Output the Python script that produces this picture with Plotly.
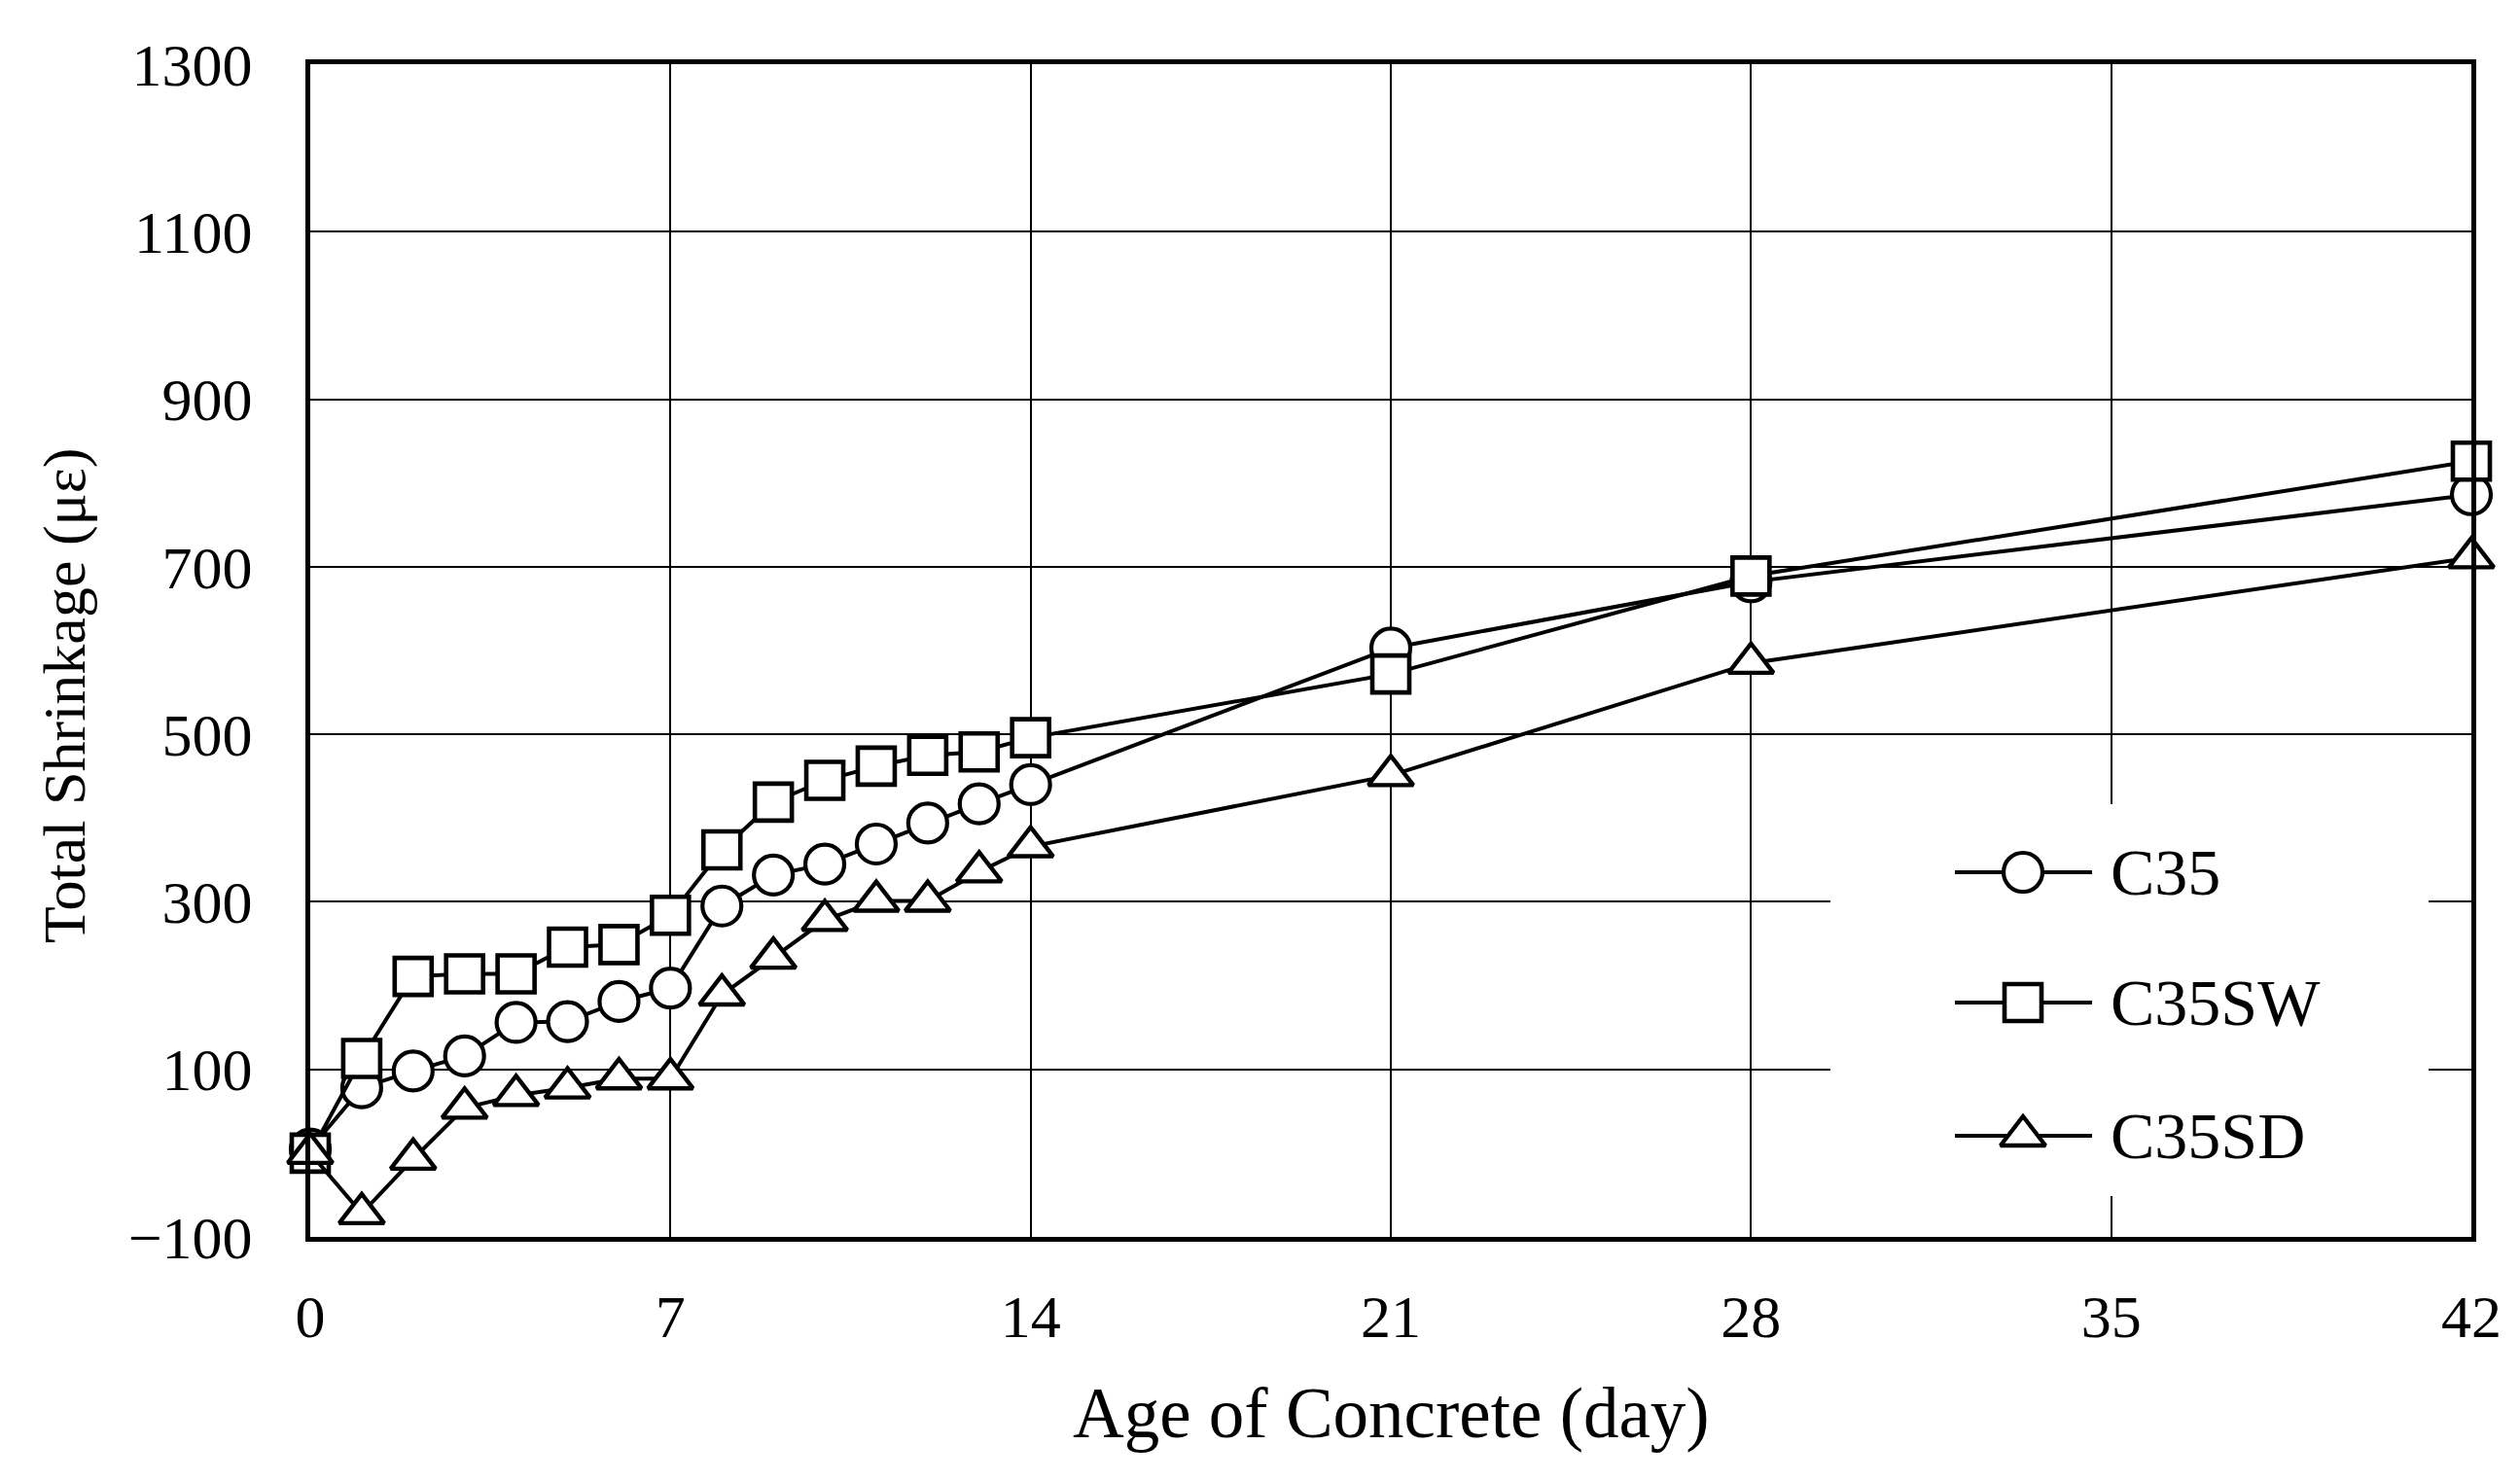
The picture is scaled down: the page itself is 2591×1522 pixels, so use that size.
import plotly.graph_objects as go

# ---- data ----
days = [0, 1, 2, 3, 4, 5, 6, 7, 8, 9, 10, 11, 12, 13, 14, 21, 28, 42]
c35 = [5, 78, 98, 116, 156, 157, 181, 197, 295, 332, 345, 369, 394, 417, 440, 603, 682, 786]
c35sw = [0, 113, 211, 214, 214, 246, 249, 284, 362, 419, 445, 462, 475, 479, 496, 572, 689, 826]
c35sd = [0, -72, -7, 54, 69, 78, 89, 89, 189, 233, 278, 301, 301, 336, 366, 451, 585, 711]

series_names = ["C35", "C35SW", "C35SD"]
series_values = [c35, c35sw, c35sd]

x_ticks = [0, 7, 14, 21, 28, 35, 42]
y_ticks = [-100, 100, 300, 500, 700, 900, 1100, 1300]

x_title = "Age of Concrete (day)"
y_title = "Total Shrinkage (με)"

# ---- styles ----
FONT = "Liberation Serif"
symbols = ["circle", "square", "triangle-up"]
sizes = [40, 38, 40]
mlw = [4.2, 4.6, 4.4]
LINE_W = 4

# page body has an 8px margin; compensate so the plot lands where the reference has it
OFF = 8
W, H = 2591 - OFF, 1522 - OFF
PL, PR, PT, PB = 319, 2541, 66, 1272          # plot box in page pixels
ML, MR, MT, MB = PL - OFF, W + OFF - PR, PT - OFF, H + OFF - PB
pw = PR - PL
ph = PB - PT

fig = go.Figure()

for name, vals, sym, sz, lw in zip(series_names, series_values, symbols, sizes, mlw):
    fig.add_trace(go.Scatter(
        x=days, y=vals, name=name, mode="lines+markers",
        line=dict(color="black", width=LINE_W),
        marker=dict(symbol=sym, size=sz, color="white",
                    line=dict(color="black", width=lw)),
        cliponaxis=False, showlegend=False,
    ))

# ---- hand-built legend on a helper axis (pixel-like units) ----
LEG_W, LEG_H = 615, 403
leg_rows = [70, 204, 341]
leg_line = [128, 269]
leg_marker_x = 198
leg_text_x = 286

for name, sym, sz, lw, ry in zip(series_names, symbols, sizes, mlw, leg_rows):
    fig.add_trace(go.Scatter(
        x=leg_line, y=[ry, ry], xaxis="x2", yaxis="y2",
        mode="lines", showlegend=False, hoverinfo="skip",
        line=dict(color="black", width=LINE_W), cliponaxis=False,
    ))
    fig.add_trace(go.Scatter(
        x=[leg_marker_x], y=[ry], xaxis="x2", yaxis="y2",
        mode="markers", name=name, showlegend=False, hoverinfo="skip",
        marker=dict(symbol=sym, size=sz, color="white",
                    line=dict(color="black", width=lw)),
        cliponaxis=False,
    ))
    fig.add_annotation(x=leg_text_x, y=ry, xref="x2", yref="y2", text=name,
                       showarrow=False, xanchor="left", yanchor="middle",
                       font=dict(family=FONT, size=68, color="black"))

fig.add_shape(type="rect", xref="x2", yref="y2", x0=0, x1=LEG_W, y0=0, y1=LEG_H,
              fillcolor="white", line=dict(width=0), layer="below")

leg_x0 = (1882 - PL) / pw
leg_x1 = (2497 - PL) / pw
leg_y0 = (PB - 1230) / ph
leg_y1 = (PB - 827) / ph

fig.update_layout(
    width=W, height=H, autosize=False,
    margin=dict(l=ML, r=MR, t=MT, b=MB, pad=0),
    paper_bgcolor="white", plot_bgcolor="white",
    font=dict(family=FONT, color="black"),
    xaxis=dict(range=[0, 42], tickvals=x_ticks, ticks="", ticklabelstandoff=24,
               tickfont=dict(family=FONT, size=62, color="black"),
               showgrid=True, gridcolor="black", gridwidth=2,
               showline=True, linecolor="black", linewidth=5, mirror=True,
               zeroline=False, fixedrange=True),
    yaxis=dict(range=[-100, 1300], tickvals=y_ticks, ticks="", ticklabelstandoff=42,
               tickfont=dict(family=FONT, size=62, color="black"),
               showgrid=True, gridcolor="black", gridwidth=2,
               showline=True, linecolor="black", linewidth=5, mirror=True,
               zeroline=False, fixedrange=True),
    xaxis2=dict(domain=[leg_x0, leg_x1], range=[0, LEG_W], visible=False,
                anchor="y2", fixedrange=True),
    yaxis2=dict(domain=[leg_y0, leg_y1], range=[LEG_H, 0], visible=False,
                anchor="x2", fixedrange=True),
)

fig.add_annotation(x=0.5, y=(PB - 1453) / ph, xref="paper", yref="paper",
                   text=x_title, showarrow=False, xanchor="center", yanchor="middle",
                   font=dict(family=FONT, size=73, color="black"))
fig.add_annotation(x=(66 - PL) / pw, y=(PB - 716) / ph, xref="paper", yref="paper",
                   text=y_title, showarrow=False, textangle=-90,
                   xanchor="center", yanchor="middle",
                   font=dict(family=FONT, size=62, color="black"))

fig.write_html("out.html")
